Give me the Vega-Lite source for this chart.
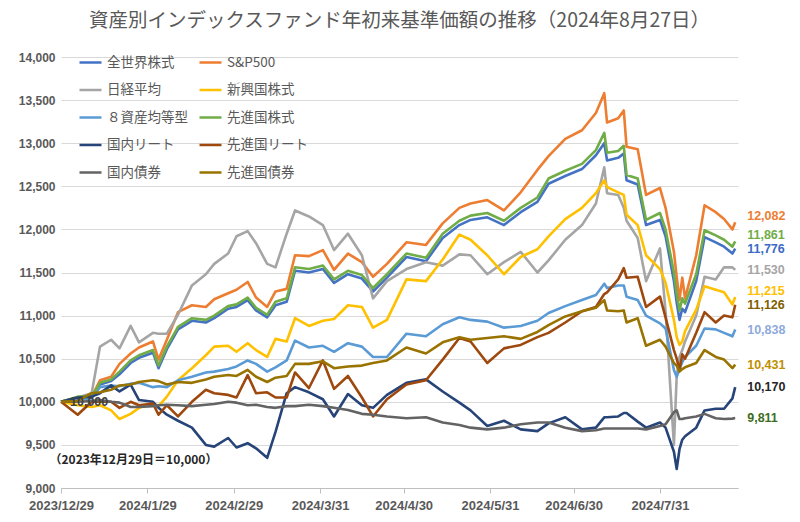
{
  "$schema": "https://vega.github.io/schema/vega-lite/v6.json",
  "width": 677,
  "height": 431,
  "autosize": {"type": "none"},
  "padding": {"left": 61, "top": 57, "right": 62, "bottom": 34},
  "background": "white",
  "title": {
    "text": "資産別インデックスファンド年初来基準価額の推移（2024年8月27日）",
    "font": "Noto Sans CJK JP",
    "fontSize": 19.5,
    "fontWeight": "normal",
    "color": "#595959",
    "anchor": "middle",
    "offset": 19
  },
  "config": {"view": {"stroke": null}, "font": "Noto Sans CJK JP"},
  "datasets": {
    "nav": [
      {"d":"2023-12-29","全世界株式":10000,"S&P500":10000,"日経平均":10000,"新興国株式":10000,"８資産均等型":10000,"先進国株式":10000,"国内リート":10000,"先進国リート":10000,"国内債券":10000,"先進国債券":10000},
      {"d":"2024-01-04","全世界株式":10050,"S&P500":10040,"日経平均":10050,"新興国株式":9960,"８資産均等型":10030,"先進国株式":10060,"国内リート":10050,"先進国リート":9850,"国内債券":10000,"先進国債券":10010},
      {"d":"2024-01-09","全世界株式":10050,"S&P500":10060,"日経平均":10100,"新興国株式":9940,"８資産均等型":10040,"先進国株式":10060,"国内リート":10060,"先進国リート":10000,"国内債券":10010,"先進国債券":10100},
      {"d":"2024-01-12","全世界株式":10200,"S&P500":10250,"日経平均":10640,"新興国株式":9960,"８資産均等型":10170,"先進国株式":10220,"国内リート":10100,"先進国リート":10000,"国内債券":10020,"先進国債券":10110},
      {"d":"2024-01-16","全世界株式":10240,"S&P500":10290,"日経平均":10720,"新興国株式":9900,"８資産均等型":10190,"先進国株式":10260,"国内リート":10190,"先進国リート":10000,"国内債券":10000,"先進国債券":10140},
      {"d":"2024-01-19","全世界株式":10320,"S&P500":10440,"日経平均":10620,"新興国株式":9800,"８資産均等型":10180,"先進国株式":10350,"国内リート":10120,"先進国リート":9930,"国内債券":9990,"先進国債券":10190},
      {"d":"2024-01-23","全世界株式":10450,"S&P500":10560,"日経平均":10880,"新興国株式":9860,"８資産均等型":10210,"先進国株式":10480,"国内リート":10200,"先進国リート":10000,"国内債券":9940,"先進国債券":10200},
      {"d":"2024-01-26","全世界株式":10510,"S&P500":10630,"日経平均":10690,"新興国株式":9930,"８資産均等型":10220,"先進国株式":10540,"国内リート":10020,"先進国リート":9960,"国内債券":9940,"先進国債券":10230},
      {"d":"2024-01-31","全世界株式":10570,"S&P500":10700,"日経平均":10800,"新興国株式":9980,"８資産均等型":10170,"先進国株式":10600,"国内リート":10000,"先進国リート":9980,"国内債券":9950,"先進国債券":10250},
      {"d":"2024-02-02","全世界株式":10390,"S&P500":10490,"日経平均":10790,"新興国株式":9950,"８資産均等型":10180,"先進国株式":10420,"国内リート":9930,"先進国リート":9850,"国内債券":9960,"先進国債券":10240},
      {"d":"2024-02-05","全世界株式":10610,"S&P500":10720,"日経平均":10790,"新興国株式":10060,"８資産均等型":10170,"先進国株式":10640,"国内リート":9850,"先進国リート":9960,"国内債券":9965,"先進国債券":10200},
      {"d":"2024-02-09","全世界株式":10840,"S&P500":11040,"日経平均":11010,"新興国株式":10250,"８資産均等型":10250,"先進国株式":10870,"国内リート":9780,"先進国リート":9830,"国内債券":9960,"先進国債券":10230},
      {"d":"2024-02-14","全世界株式":10940,"S&P500":11120,"日経平均":11350,"新興国株式":10390,"８資産均等型":10290,"先進国株式":10970,"国内リート":9700,"先進国リート":10000,"国内債券":9950,"先進国債券":10220},
      {"d":"2024-02-19","全世界株式":10920,"S&P500":11100,"日経平均":11480,"新興国株式":10540,"８資産均等型":10340,"先進国株式":10950,"国内リート":9500,"先進国リート":10140,"国内債券":9965,"先進国債券":10260},
      {"d":"2024-02-22","全世界株式":10970,"S&P500":11190,"日経平均":11600,"新興国株式":10640,"８資産均等型":10350,"先進国株式":11000,"国内リート":9480,"先進国リート":10100,"国内債券":9975,"先進国債券":10290},
      {"d":"2024-02-27","全世界株式":11080,"S&P500":11260,"日経平均":11720,"新興国株式":10650,"８資産均等型":10380,"先進国株式":11110,"国内リート":9580,"先進国リート":10080,"国内債券":10000,"先進国債券":10310},
      {"d":"2024-03-01","全世界株式":11100,"S&P500":11300,"日経平均":11920,"新興国株式":10580,"８資産均等型":10410,"先進国株式":11130,"国内リート":9470,"先進国リート":10050,"国内債券":9990,"先進国債券":10300},
      {"d":"2024-03-05","全世界株式":11180,"S&P500":11390,"日経平均":11980,"新興国株式":10680,"８資産均等型":10480,"先進国株式":11210,"国内リート":9520,"先進国リート":10310,"国内債券":9960,"先進国債券":10370},
      {"d":"2024-03-08","全世界株式":11060,"S&P500":11210,"日経平均":11840,"新興国株式":10600,"８資産均等型":10440,"先進国株式":11090,"国内リート":9460,"先進国リート":10100,"国内債券":9965,"先進国債券":10290},
      {"d":"2024-03-12","全世界株式":10980,"S&P500":11100,"日経平均":11600,"新興国株式":10520,"８資産均等型":10350,"先進国株式":11010,"国内リート":9350,"先進国リート":10110,"国内債券":9940,"先進国債券":10230},
      {"d":"2024-03-15","全世界株式":11120,"S&P500":11280,"日経平均":11560,"新興国株式":10730,"８資産均等型":10400,"先進国株式":11160,"国内リート":9650,"先進国リート":10050,"国内債券":9930,"先進国債券":10280},
      {"d":"2024-03-19","全世界株式":11160,"S&P500":11310,"日経平均":11950,"新興国株式":10700,"８資産均等型":10480,"先進国株式":11200,"国内リート":10100,"先進国リート":10050,"国内債券":9950,"先進国債券":10300},
      {"d":"2024-03-22","全世界株式":11520,"S&P500":11700,"日経平均":12220,"新興国株式":10970,"８資産均等型":10710,"先進国株式":11560,"国内リート":10170,"先進国リート":10340,"国内債券":9950,"先進国債券":10440},
      {"d":"2024-03-27","全世界株式":11500,"S&P500":11690,"日経平均":12150,"新興国株式":10880,"８資産均等型":10630,"先進国株式":11540,"国内リート":10110,"先進国リート":10160,"国内債券":9965,"先進国債券":10440},
      {"d":"2024-04-01","全世界株式":11540,"S&P500":11760,"日経平均":12050,"新興国株式":10940,"８資産均等型":10650,"先進国株式":11580,"国内リート":10030,"先進国リート":10480,"国内債券":9950,"先進国債券":10470},
      {"d":"2024-04-05","全世界株式":11380,"S&P500":11530,"日経平均":11760,"新興国株式":10960,"８資産均等型":10580,"先進国株式":11420,"国内リート":9830,"先進国リート":10150,"国内債券":9930,"先進国債券":10390},
      {"d":"2024-04-10","全世界株式":11480,"S&P500":11720,"日経平均":11950,"新興国株式":11120,"８資産均等型":10680,"先進国株式":11520,"国内リート":10090,"先進国リート":10300,"国内債券":9905,"先進国債券":10410},
      {"d":"2024-04-15","全世界株式":11430,"S&P500":11620,"日経平均":11700,"新興国株式":11100,"８資産均等型":10640,"先進国株式":11470,"国内リート":9960,"先進国リート":10050,"国内債券":9860,"先進国債券":10420},
      {"d":"2024-04-19","全世界株式":11280,"S&P500":11450,"日経平均":11200,"新興国株式":10860,"８資産均等型":10520,"先進国株式":11320,"国内リート":9930,"先進国リート":9830,"国内債券":9850,"先進国債券":10450},
      {"d":"2024-04-24","全世界株式":11440,"S&P500":11600,"日経平均":11400,"新興国株式":10950,"８資産均等型":10520,"先進国株式":11480,"国内リート":10080,"先進国リート":10030,"国内債券":9830,"先進国債券":10480},
      {"d":"2024-05-01","全世界株式":11680,"S&P500":11850,"日経平均":11540,"新興国株式":11420,"８資産均等型":10790,"先進国株式":11720,"国内リート":10220,"先進国リート":10200,"国内債券":9810,"先進国債券":10630},
      {"d":"2024-05-08","全世界株式":11630,"S&P500":11820,"日経平均":11620,"新興国株式":11400,"８資産均等型":10760,"先進国株式":11670,"国内リート":10260,"先進国リート":10250,"国内債券":9820,"先進国債券":10560},
      {"d":"2024-05-14","全世界株式":11900,"S&P500":12070,"日経平均":11580,"新興国株式":11650,"８資産均等型":10900,"先進国株式":11950,"国内リート":10120,"先進国リート":10490,"国内債券":9760,"先進国債券":10690},
      {"d":"2024-05-20","全世界株式":12050,"S&P500":12250,"日経平均":11710,"新興国株式":11940,"８資産均等型":10980,"先進国株式":12100,"国内リート":9990,"先進国リート":10740,"国内債券":9730,"先進国債券":10750},
      {"d":"2024-05-24","全世界株式":12110,"S&P500":12300,"日経平均":11700,"新興国株式":11880,"８資産均等型":10950,"先進国株式":12160,"国内リート":9900,"先進国リート":10700,"国内債券":9700,"先進国債券":10720},
      {"d":"2024-05-30","全世界株式":12140,"S&P500":12340,"日経平均":11480,"新興国株式":11700,"８資産均等型":10930,"先進国株式":12190,"国内リート":9720,"先進国リート":10450,"国内債券":9680,"先進国債券":10740},
      {"d":"2024-06-05","全世界株式":12050,"S&P500":12220,"日経平均":11620,"新興国株式":11480,"８資産均等型":10860,"先進国株式":12100,"国内リート":9780,"先進国リート":10620,"国内債券":9700,"先進国債券":10760},
      {"d":"2024-06-11","全世界株式":12200,"S&P500":12430,"日経平均":11740,"新興国株式":11680,"８資産均等型":10880,"先進国株式":12250,"国内リート":9680,"先進国リート":10660,"国内債券":9740,"先進国債券":10730},
      {"d":"2024-06-17","全世界株式":12320,"S&P500":12690,"日経平均":11500,"新興国株式":11770,"８資産均等型":10940,"先進国株式":12370,"国内リート":9660,"先進国リート":10750,"国内債券":9760,"先進国債券":10810},
      {"d":"2024-06-21","全世界株式":12530,"S&P500":12850,"日経平均":11640,"新興国株式":11920,"８資産均等型":11030,"先進国株式":12590,"国内リート":9750,"先進国リート":10800,"国内債券":9760,"先進国債券":10890},
      {"d":"2024-06-27","全世界株式":12620,"S&P500":13050,"日経平均":11880,"新興国株式":12120,"８資産均等型":11110,"先進国株式":12680,"国内リート":9820,"先進国リート":10920,"国内債券":9700,"先進国債券":10990},
      {"d":"2024-07-03","全世界株式":12700,"S&P500":13150,"日経平均":12050,"新興国株式":12250,"８資産均等型":11180,"先進国株式":12760,"国内リート":9680,"先進国リート":11050,"国内債券":9660,"先進国債券":11050},
      {"d":"2024-07-08","全世界株式":12860,"S&P500":13350,"日経平均":12300,"新興国株式":12420,"８資産均等型":11240,"先進国株式":12920,"国内リート":9700,"先進国リート":11100,"国内債券":9670,"先進国債券":11090},
      {"d":"2024-07-11","全世界株式":13000,"S&P500":13580,"日経平均":12720,"新興国株式":12570,"８資産均等型":11370,"先進国株式":13120,"国内リート":9820,"先進国リート":11250,"国内債券":9690,"先進国債券":11180},
      {"d":"2024-07-12","全世界株式":12800,"S&P500":13240,"日経平均":12420,"新興国株式":12490,"８資産均等型":11320,"先進国株式":12890,"国内リート":9820,"先進国リート":11270,"国内債券":9690,"先進国債券":11060},
      {"d":"2024-07-16","全世界株式":12830,"S&P500":13290,"日経平均":12400,"新興国株式":12430,"８資産均等型":11350,"先進国株式":12910,"国内リート":9830,"先進国リート":11420,"国内債券":9690,"先進国債券":11050},
      {"d":"2024-07-18","全世界株式":12880,"S&P500":13380,"日経平均":12250,"新興国株式":12400,"８資産均等型":11350,"先進国株式":12970,"国内リート":9870,"先進国リート":11550,"国内債券":9690,"先進国債券":11060},
      {"d":"2024-07-19","全世界株式":12570,"S&P500":12960,"日経平均":12100,"新興国株式":12170,"８資産均等型":11220,"先進国株式":12630,"国内リート":9870,"先進国リート":11440,"国内債券":9690,"先進国債券":10920},
      {"d":"2024-07-23","全世界株式":12520,"S&P500":12930,"日経平均":11900,"新興国株式":12050,"８資産均等型":11180,"先進国株式":12590,"国内リート":9770,"先進国リート":11450,"国内債券":9690,"先進国債券":10970},
      {"d":"2024-07-26","全世界株式":12050,"S&P500":12400,"日経平均":11400,"新興国株式":11700,"８資産均等型":11000,"先進国株式":12110,"国内リート":9700,"先進国リート":11100,"国内債券":9680,"先進国債券":10650},
      {"d":"2024-07-31","全世界株式":12110,"S&P500":12480,"日経平均":11780,"新興国株式":11540,"８資産均等型":10910,"先進国株式":12190,"国内リート":9760,"先進国リート":11220,"国内債券":9720,"先進国債券":10720},
      {"d":"2024-08-02","全世界株式":11920,"S&P500":12250,"日経平均":11050,"新興国株式":11380,"８資産均等型":10850,"先進国株式":12000,"国内リート":9700,"先進国リート":10980,"国内債券":9740,"先進国債券":10640},
      {"d":"2024-08-05","全世界株式":11400,"S&P500":11740,"日経平均":9500,"新興国株式":10950,"８資産均等型":10370,"先進国株式":11500,"国内リート":9420,"先進国リート":10600,"国内債券":9880,"先進国債券":10450},
      {"d":"2024-08-06","全世界株式":11150,"S&P500":11450,"日経平均":10300,"新興国株式":10750,"８資産均等型":10290,"先進国株式":11250,"国内リート":9220,"先進国リート":10500,"国内債券":9900,"先進国債券":10420},
      {"d":"2024-08-07","全世界株式":10950,"S&P500":11180,"日経平均":10520,"新興国株式":10660,"８資産均等型":10380,"先進国株式":11060,"国内リート":9450,"先進国リート":10370,"国内債券":9800,"先進国債券":10350},
      {"d":"2024-08-08","全世界株式":11080,"S&P500":11440,"日経平均":10600,"新興国株式":10700,"８資産均等型":10460,"先進国株式":11200,"国内リート":9560,"先進国リート":10550,"国内債券":9800,"先進国債券":10380},
      {"d":"2024-08-09","全世界株式":11040,"S&P500":11200,"日経平均":10700,"新興国株式":10820,"８資産均等型":10520,"先進国株式":11140,"国内リート":9600,"先進国リート":10500,"国内債券":9810,"先進国債券":10400},
      {"d":"2024-08-13","全世界株式":11400,"S&P500":11700,"日経平均":11000,"新興国株式":11070,"８資産均等型":10650,"先進国株式":11480,"国内リート":9700,"先進国リート":10800,"国内債券":9830,"先進国債券":10450},
      {"d":"2024-08-16","全世界株式":11910,"S&P500":12280,"日経平均":11450,"新興国株式":11340,"８資産均等型":10850,"先進国株式":11990,"国内リート":9900,"先進国リート":11040,"国内債券":9860,"先進国債券":10600},
      {"d":"2024-08-20","全世界株式":11850,"S&P500":12200,"日経平均":11420,"新興国株式":11300,"８資産均等型":10840,"先進国株式":11930,"国内リート":9920,"先進国リート":10920,"国内債券":9810,"先進国債券":10520},
      {"d":"2024-08-23","全世界株式":11800,"S&P500":12120,"日経平均":11560,"新興国株式":11270,"８資産均等型":10800,"先進国株式":11880,"国内リート":9920,"先進国リート":11000,"国内債券":9800,"先進国債券":10490},
      {"d":"2024-08-26","全世界株式":11720,"S&P500":12000,"日経平均":11560,"新興国株式":11130,"８資産均等型":10760,"先進国株式":11800,"国内リート":10040,"先進国リート":10980,"国内債券":9805,"先進国債券":10390},
      {"d":"2024-08-27","全世界株式":11776,"S&P500":12082,"日経平均":11530,"新興国株式":11215,"８資産均等型":10838,"先進国株式":11861,"国内リート":10170,"先進国リート":11126,"国内債券":9811,"先進国債券":10431}
    ]
  },
  "resolve": {"scale": {"color": "independent"}},
  "layer": [
    {
      "data": {"name": "nav"},
      "transform": [
        {"fold": ["全世界株式","S&P500","日経平均","新興国株式","８資産均等型","先進国株式","国内リート","先進国リート","国内債券","先進国債券"], "as": ["s", "v"]}
      ],
      "mark": {"type": "line", "strokeWidth": 2.6, "strokeJoin": "round"},
      "encoding": {
        "x": {
          "field": "d", "type": "temporal",
          "scale": {"type": "utc", "domain": [{"year": 2023, "month": 12, "date": 29, "utc": true}, {"year": 2024, "month": 8, "date": 28, "utc": true}]},
          "axis": {
            "title": null,
            "values": [
              {"year": 2023, "month": 12, "date": 29, "utc": true},
              {"year": 2024, "month": 1, "date": 29, "utc": true},
              {"year": 2024, "month": 2, "date": 29, "utc": true},
              {"year": 2024, "month": 3, "date": 31, "utc": true},
              {"year": 2024, "month": 4, "date": 30, "utc": true},
              {"year": 2024, "month": 5, "date": 31, "utc": true},
              {"year": 2024, "month": 6, "date": 30, "utc": true},
              {"year": 2024, "month": 7, "date": 31, "utc": true}
            ],
            "format": "%Y/%-m/%-d",
            "labelFont": "Liberation Sans",
            "labelFontSize": 13,
            "labelFontWeight": "bold",
            "labelColor": "#595959",
            "labelPadding": 6,
            "labelOverlap": false,
            "labelBound": false,
            "labelFlush": false,
            "tickColor": "#BFBFBF",
            "tickSize": 5,
            "domainColor": "#BFBFBF",
            "grid": false
          }
        },
        "y": {
          "field": "v", "type": "quantitative",
          "scale": {"domain": [9000, 14000], "nice": false, "zero": false},
          "axis": {
            "title": null,
            "values": [9000, 9500, 10000, 10500, 11000, 11500, 12000, 12500, 13000, 13500, 14000],
            "format": ",.0f",
            "labelFont": "Liberation Sans",
            "labelFontSize": 12,
            "labelFontWeight": "bold",
            "labelColor": "#595959",
            "labelPadding": 6,
            "ticks": false,
            "domain": false,
            "grid": true,
            "gridColor": "#D9D9D9",
            "gridWidth": 1
          }
        },
        "color": {
          "field": "s", "type": "nominal",
          "scale": {
            "domain": ["全世界株式","日経平均","８資産均等型","国内リート","国内債券","S&P500","新興国株式","先進国株式","先進国リート","先進国債券"],
            "range": ["#4472C4","#A5A5A5","#5B9BD5","#264478","#636363","#ED7D31","#FFC000","#70AD47","#9E480E","#997300"]
          },
          "legend": {
            "orient": "none",
            "legendX": 17,
            "legendY": -7,
            "columns": 2,
            "title": null,
            "symbolType": "stroke",
            "symbolSize": 484,
            "symbolStrokeWidth": 2.5,
            "labelFont": "Noto Sans CJK JP",
            "labelFontSize": 13.5,
            "labelColor": "#595959",
            "labelOffset": 4,
            "rowPadding": 8.5,
            "columnPadding": 6,
            "padding": 0
          }
        }
      }
    },
    {
      "data": {"name": "nav"},
      "transform": [
        {"fold": ["全世界株式","S&P500","日経平均","新興国株式","８資産均等型","先進国株式","国内リート","先進国リート","国内債券","先進国債券"], "as": ["s", "v"]},
        {"filter": "time(datum.d) > datetime(2024,7,26,12)"},
        {"filter": {"field": "s", "oneOf": ["S&P500", "先進国株式", "新興国株式"]}}
      ],
      "mark": {"type": "text", "align": "left", "baseline": "middle", "dx": 12, "dy": -6, "font": "Liberation Sans", "fontSize": 12.5, "fontWeight": "bold"},
      "encoding": {
        "x": {"field": "d", "type": "temporal"},
        "y": {"field": "v", "type": "quantitative"},
        "text": {"field": "v", "type": "quantitative", "format": ",.0f"},
        "color": {
          "field": "s", "type": "nominal", "legend": null,
          "scale": {
            "domain": ["全世界株式","S&P500","日経平均","新興国株式","８資産均等型","先進国株式","国内リート","先進国リート","国内債券","先進国債券"],
            "range": ["#3A6BC4","#ED7D31","#A5A5A5","#FFC000","#8FAADC","#70AD47","#262626","#7F6000","#3B6E22","#BF9000"]
          }
        }
      }
    },
    {
      "data": {"name": "nav"},
      "transform": [
        {"fold": ["全世界株式","S&P500","日経平均","新興国株式","８資産均等型","先進国株式","国内リート","先進国リート","国内債券","先進国債券"], "as": ["s", "v"]},
        {"filter": "time(datum.d) > datetime(2024,7,26,12)"},
        {"filter": {"not": {"field": "s", "oneOf": ["S&P500", "先進国株式", "新興国株式"]}}}
      ],
      "mark": {"type": "text", "align": "left", "baseline": "middle", "dx": 12, "font": "Liberation Sans", "fontSize": 12.5, "fontWeight": "bold"},
      "encoding": {
        "x": {"field": "d", "type": "temporal"},
        "y": {"field": "v", "type": "quantitative"},
        "text": {"field": "v", "type": "quantitative", "format": ",.0f"},
        "color": {
          "field": "s", "type": "nominal", "legend": null,
          "scale": {
            "domain": ["全世界株式","S&P500","日経平均","新興国株式","８資産均等型","先進国株式","国内リート","先進国リート","国内債券","先進国債券"],
            "range": ["#3A6BC4","#ED7D31","#A5A5A5","#FFC000","#8FAADC","#70AD47","#262626","#7F6000","#3B6E22","#BF9000"]
          }
        }
      }
    },
    {
      "data": {"values": [{"d": "2023-12-29", "v": 10000}]},
      "mark": {"type": "text", "align": "left", "baseline": "middle", "dx": 9, "font": "Liberation Sans", "fontSize": 12.5, "fontWeight": "bold", "color": "#404040"},
      "encoding": {
        "x": {"field": "d", "type": "temporal"},
        "y": {"field": "v", "type": "quantitative"},
        "text": {"field": "v", "type": "quantitative", "format": ",.0f"}
      }
    },
    {
      "data": {"values": [{"t": "（2023年12月29日＝10,000）"}]},
      "mark": {"type": "text", "align": "center", "baseline": "middle", "font": "Noto Sans CJK JP", "fontSize": 12, "fontWeight": "bold", "color": "#262626"},
      "encoding": {
        "x": {"datum": {"year": 2024, "month": 1, "date": 24, "utc": true}, "type": "temporal"},
        "y": {"datum": 9330, "type": "quantitative"},
        "text": {"field": "t", "type": "nominal"}
      }
    }
  ]
}
